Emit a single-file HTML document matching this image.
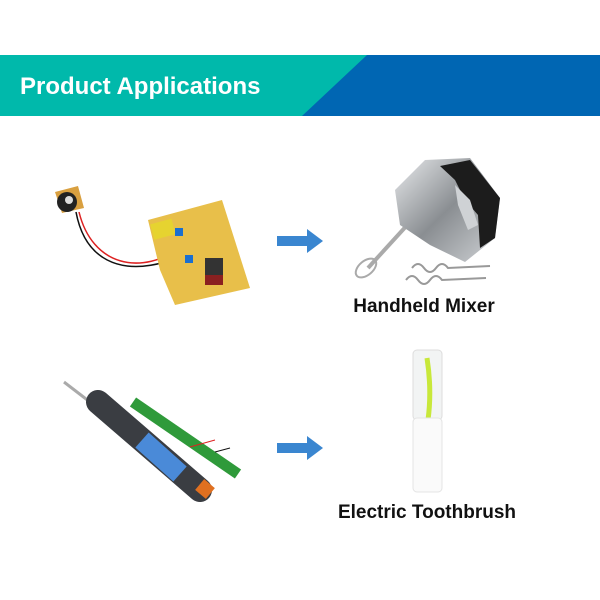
<!DOCTYPE html>
<html><head><style>
body{margin:0;width:600px;height:600px;background:#fff;position:relative;overflow:hidden;font-family:"Liberation Sans",sans-serif}
.lbl{position:absolute;font-weight:bold;font-size:19px;color:#111;text-align:center;width:260px}
</style></head><body>
<svg width="600" height="600" style="position:absolute;left:0;top:0">
<defs>
<linearGradient id="s" x1="0" y1="0" x2="1" y2="1"><stop offset="0" stop-color="#e8eaec"/><stop offset="0.5" stop-color="#8a8e92"/><stop offset="1" stop-color="#d0d3d6"/></linearGradient>
</defs>
<rect x="0" y="55" width="600" height="61" fill="#0066b3"/>
<polygon points="0,55 367,55 302,116 0,116" fill="#00b9ab"/>
<text x="20" y="94" font-family="Liberation Sans Narrow, Liberation Sans, sans-serif" font-weight="bold" font-size="24" fill="#fff">Product Applications</text>
<polygon points="277,236 307,236 307,229 323,241 307,253 307,246 277,246" fill="#3a86d0"/>
<polygon points="277,443 307,443 307,436 323,448 307,460 307,453 277,453" fill="#3a86d0"/>
<!-- PCB 1 -->
<polygon points="55,192 78,186 84,208 62,213" fill="#d9a040"/>
<circle cx="67" cy="202" r="10" fill="#222"/>
<circle cx="69" cy="200" r="4" fill="#ddd"/>
<path d="M76,212 C85,260 120,275 165,262" stroke="#111" stroke-width="1.5" fill="none"/>
<path d="M79,212 C92,265 140,278 185,245" stroke="#d22" stroke-width="1.5" fill="none"/>
<polygon points="148,220 222,200 250,288 175,305 160,270" fill="#e8bf4a"/>
<rect x="152" y="222" width="22" height="16" fill="#e6d330" transform="rotate(-15 160 230)"/>
<rect x="175" y="228" width="8" height="8" fill="#1a6fd0"/>
<rect x="185" y="255" width="8" height="8" fill="#1a6fd0"/>
<rect x="205" y="258" width="18" height="22" fill="#333"/>
<rect x="205" y="275" width="18" height="10" fill="#8a2020"/>
<!-- mixer -->
<line x1="410" y1="222" x2="368" y2="268" stroke="#aaa" stroke-width="4"/>
<ellipse cx="366" cy="268" rx="12" ry="7" fill="none" stroke="#aaa" stroke-width="2" transform="rotate(-40 366 268)"/>
<polygon points="395,190 425,160 470,158 500,198 495,238 465,262 430,245 400,225" fill="url(#s)"/>
<polygon points="440,166 470,160 500,198 495,238 480,248 478,215 465,200 455,180" fill="#1c1c1c"/>
<polygon points="455,185 470,200 478,225 468,230 458,205" fill="#cfd2d5"/>
<path d="M412,268 q6,-8 12,0 q6,8 12,0 q6,-8 12,0 L490,266" stroke="#999" stroke-width="2" fill="none"/>
<path d="M406,280 q6,-8 12,0 q6,8 12,0 q6,-8 12,0 L486,278" stroke="#999" stroke-width="2" fill="none"/>
<!-- tool 2 -->
<line x1="64" y1="382" x2="90" y2="402" stroke="#aaa" stroke-width="3"/>
<line x1="133" y1="402" x2="238" y2="474" stroke="#2f9a3a" stroke-width="11"/>
<line x1="98" y1="402" x2="200" y2="490" stroke="#3a3d42" stroke-width="24" stroke-linecap="round"/>
<line x1="142" y1="440" x2="180" y2="474" stroke="#4a8ad8" stroke-width="20"/>
<rect x="198" y="482" width="14" height="14" fill="#e07020" transform="rotate(40 205 489)"/>
<path d="M190,447 L215,440" stroke="#d22" stroke-width="1"/>
<path d="M215,452 L230,448" stroke="#111" stroke-width="1"/>
<!-- toothbrush -->
<rect x="413" y="350" width="29" height="70" rx="4" fill="#f2f4f4" stroke="#ddd"/>
<path d="M427,358 Q432,390 428,420" stroke="#c8e83a" stroke-width="5" fill="none"/>
<rect x="413" y="418" width="29" height="74" rx="4" fill="#fafafa" stroke="#e4e4e4"/>
</svg>
<div class="lbl" style="left:294px;top:296px">Handheld Mixer</div>
<div class="lbl" style="left:297px;top:502px">Electric Toothbrush</div>
</body></html>
